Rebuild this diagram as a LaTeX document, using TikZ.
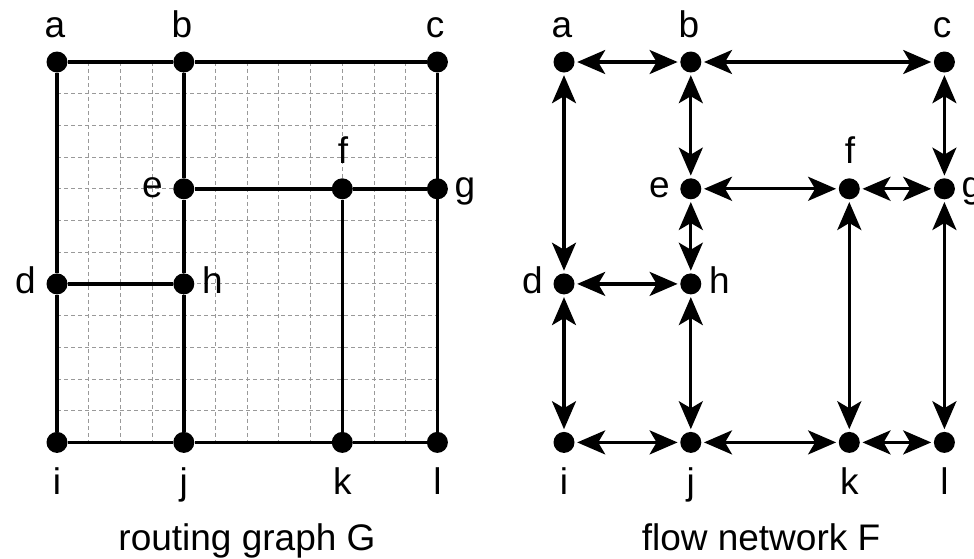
\documentclass[tikz,border=0pt]{standalone}
\usepackage{fontspec}
\setmainfont{Liberation Sans}
\usetikzlibrary{arrows.meta}
\tikzset{
  dot/.style={circle,fill=black,inner sep=0pt,minimum size=21pt},
  lbl/.style={inner sep=0pt,font=\fontsize{37}{40}\selectfont},
  gridline/.style={draw=gray!80,line width=1pt,dash pattern=on 4pt off 3pt},
  solidedge/.style={line width=3.4pt},
  flow/.style={line width=3.2pt,
    {Stealth[length=28pt,width=24pt,inset=7pt]}-{Stealth[length=28pt,width=24pt,inset=7pt]},
    shorten <=2.5pt, shorten >=2.5pt}
}
\begin{document}
\begin{tikzpicture}[x=1pt,y=-1pt]
\useasboundingbox (0,0) rectangle (974,558);
% ---------- left: routing graph G ----------
\foreach \i in {1,...,11} {
  \draw[gridline] ({57+31.7*\i},62) -- ({57+31.7*\i},442.4);
  \draw[gridline] (57,{62+31.7*\i}) -- (437.4,{62+31.7*\i});
}
\begin{scope}
\node[dot] (La) at (57,62) {};
\node[dot] (Lb) at (183.8,62) {};
\node[dot] (Lc) at (437.4,62) {};
\node[dot] (Le) at (183.8,188.8) {};
\node[dot] (Lf) at (342.3,188.8) {};
\node[dot] (Lg) at (437.4,188.8) {};
\node[dot] (Ld) at (57,283.9) {};
\node[dot] (Lh) at (183.8,283.9) {};
\node[dot] (Li) at (57,442.4) {};
\node[dot] (Lj) at (183.8,442.4) {};
\node[dot] (Lk) at (342.3,442.4) {};
\node[dot] (Ll) at (437.4,442.4) {};
\draw[solidedge] (La) -- (Lb) -- (Lc) -- (Ll);
\draw[solidedge] (La) -- (Ld) -- (Li) -- (Lj) -- (Lk) -- (Ll);
\draw[solidedge] (Lb) -- (Le) -- (Lh) -- (Lj);
\draw[solidedge] (Le) -- (Lf) -- (Lg);
\draw[solidedge] (Ld) -- (Lh);
\draw[solidedge] (Lf) -- (Lk);
\node[lbl,anchor=base] (tLa) at (55,37) {a};
\node[lbl,anchor=base] (tLb) at (182,37) {b};
\node[lbl,anchor=base] (tLc) at (435,37) {c};
\node[lbl,anchor=base] (tLf) at (343,163) {f};
\node[lbl,anchor=base east] (tLe) at (162.8,197) {e};
\node[lbl,anchor=base west] (tLg) at (454.4,197) {g};
\node[lbl,anchor=base east] (tLd) at (36,293) {d};
\node[lbl,anchor=base west] (tLh) at (201.8,293) {h};
\node[lbl,anchor=base] (tLi) at (57,494) {i};
\node[lbl,anchor=base] (tLj) at (183.8,494) {j};
\node[lbl,anchor=base] (tLk) at (342.3,494) {k};
\node[lbl,anchor=base] (tLl) at (437.4,494) {l};
\node[lbl,anchor=base] (titleG) at (247,550) {routing graph G};
\end{scope}
% ---------- right: flow network F ----------
\begin{scope}[xshift=507pt]
\node[dot] (Ra) at (57,62) {};
\node[dot] (Rb) at (183.8,62) {};
\node[dot] (Rc) at (437.4,62) {};
\node[dot] (Re) at (183.8,188.8) {};
\node[dot] (Rf) at (342.3,188.8) {};
\node[dot] (Rg) at (437.4,188.8) {};
\node[dot] (Rd) at (57,283.9) {};
\node[dot] (Rh) at (183.8,283.9) {};
\node[dot] (Ri) at (57,442.4) {};
\node[dot] (Rj) at (183.8,442.4) {};
\node[dot] (Rk) at (342.3,442.4) {};
\node[dot] (Rl) at (437.4,442.4) {};
\draw[flow] (Ra) -- (Rb);
\draw[flow] (Rb) -- (Rc);
\draw[flow] (Ra) -- (Rd);
\draw[flow] (Rb) -- (Re);
\draw[flow] (Rc) -- (Rg);
\draw[flow] (Re) -- (Rf);
\draw[flow] (Rf) -- (Rg);
\draw[flow] (Re) -- (Rh);
\draw[flow] (Rd) -- (Rh);
\draw[flow] (Rd) -- (Ri);
\draw[flow] (Rh) -- (Rj);
\draw[flow] (Rf) -- (Rk);
\draw[flow] (Rg) -- (Rl);
\draw[flow] (Ri) -- (Rj);
\draw[flow] (Rj) -- (Rk);
\draw[flow] (Rk) -- (Rl);
\node[lbl,anchor=base] (tRa) at (55,37) {a};
\node[lbl,anchor=base] (tRb) at (182,37) {b};
\node[lbl,anchor=base] (tRc) at (435,37) {c};
\node[lbl,anchor=base] (tRf) at (343,163) {f};
\node[lbl,anchor=base east] (tRe) at (162.8,197) {e};
\node[lbl,anchor=base west] (tRg) at (454.4,197) {g};
\node[lbl,anchor=base east] (tRd) at (36,293) {d};
\node[lbl,anchor=base west] (tRh) at (201.8,293) {h};
\node[lbl,anchor=base] (tRi) at (57,494) {i};
\node[lbl,anchor=base] (tRj) at (183.8,494) {j};
\node[lbl,anchor=base] (tRk) at (342.3,494) {k};
\node[lbl,anchor=base] (tRl) at (437.4,494) {l};
\node[lbl,anchor=base] (titleF) at (254,550) {flow network F};
\end{scope}
\end{tikzpicture}
\end{document}
